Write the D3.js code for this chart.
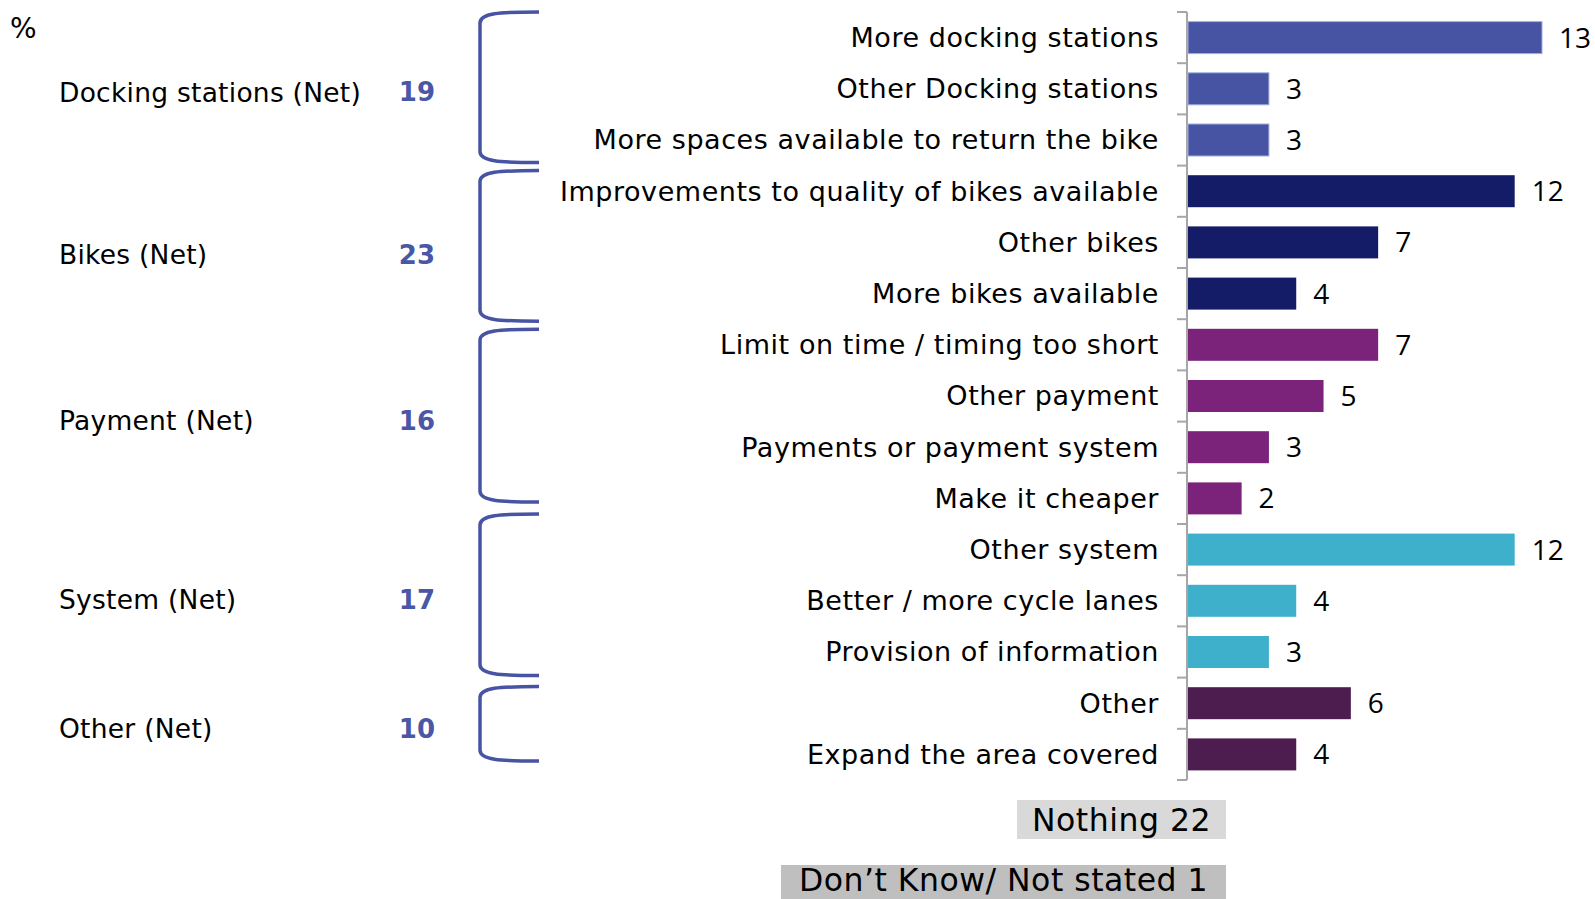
<!DOCTYPE html>
<html>
<head>
<meta charset="utf-8">
<script src="https://cdn.jsdelivr.net/npm/d3@7"></script>
<style>
  html, body { margin: 0; padding: 0; background: #ffffff; }
  svg { display: block; }
</style>
</head>
<body>
<svg id="chart" width="1595" height="899"></svg>
<script>
// Suggested improvements, grouped into net categories (%)
const categories = [
  "More docking stations",
  "Other Docking stations",
  "More spaces available to return the bike",
  "Improvements to quality of bikes available",
  "Other bikes",
  "More bikes available",
  "Limit on time / timing too short",
  "Other payment",
  "Payments or payment system",
  "Make it cheaper",
  "Other system",
  "Better / more cycle lanes",
  "Provision of information",
  "Other",
  "Expand the area covered"
];
const values = [13, 3, 3, 12, 7, 4, 7, 5, 3, 2, 12, 4, 3, 6, 4];

const groupNames = ["Docking stations (Net)", "Bikes (Net)", "Payment (Net)", "System (Net)", "Other (Net)"];
const groupNets = [19, 23, 16, 17, 10];
const groupSizes = [3, 3, 4, 3, 2];
const groupColors = ["#4753a3", "#141c67", "#7b237b", "#3fb0cc", "#4d1d50"];

const nothingLabel = "Nothing";
const nothingValue = 22;
const dontKnowLabel = "Don\u2019t Know/ Not stated";
const dontKnowValue = 1;

const svg = d3.select("#chart");

// group index for each category
const groupOf = [];
groupSizes.forEach((n, g) => { for (let i = 0; i < n; i++) groupOf.push(g); });

const axisX = 1187;
const x = d3.scaleLinear().domain([0, 13]).range([axisX, 1542]);
const y = d3.scaleBand()
  .domain(categories)
  .range([12, 780])
  .paddingInner(0.375)
  .paddingOuter(0.1875);

const labelFont = "'DejaVu Sans', Verdana, sans-serif";

// percent marker
svg.append("text")
  .attr("x", 10).attr("y", 38)
  .attr("font-family", labelFont)
  .attr("font-size", 28)
  .attr("fill", "#000")
  .text("%");

// category axis with ticks between bands
const step = y.step();
const outer = y.paddingOuter() * step;
const boundaries = d3.range(categories.length + 1).map(i => y.range()[0] + i * step);
const axisG = svg.append("g");
axisG.append("line")
  .attr("x1", axisX).attr("x2", axisX)
  .attr("y1", boundaries[0]).attr("y2", boundaries[boundaries.length - 1])
  .attr("stroke", "#a6a6a6").attr("stroke-width", 2);
axisG.selectAll("line.tick")
  .data(boundaries)
  .enter().append("line")
  .attr("class", "tick")
  .attr("x1", axisX - 10).attr("x2", axisX)
  .attr("y1", d => d).attr("y2", d => d)
  .attr("stroke", "#a6a6a6").attr("stroke-width", 2);

// category labels
svg.append("g").selectAll("text")
  .data(categories)
  .enter().append("text")
  .attr("x", axisX - 28)
  .attr("y", d => y(d) + y.bandwidth() / 2)
  .attr("dy", "0.35em")
  .attr("text-anchor", "end")
  .attr("font-family", labelFont)
  .attr("font-size", 27)
  .attr("letter-spacing", 0.55)
  .attr("fill", "#000")
  .text(d => d);

// bars
svg.append("g").selectAll("rect")
  .data(categories)
  .enter().append("rect")
  .attr("x", x(0) + 1)
  .attr("y", d => y(d))
  .attr("width", (d, i) => x(values[i]) - x(0) - 1)
  .attr("height", y.bandwidth())
  .attr("fill", (d, i) => groupColors[groupOf[i]])
  .attr("stroke", (d, i) => groupOf[i] === 0 ? "#9fb0e0" : "none")
  .attr("stroke-width", 1);

// value labels
svg.append("g").selectAll("text")
  .data(categories)
  .enter().append("text")
  .attr("x", (d, i) => x(values[i]) + 17)
  .attr("y", d => y(d) + y.bandwidth() / 2)
  .attr("dy", "0.36em")
  .attr("font-family", "'Open Sans', sans-serif")
  .attr("font-size", 28)
  .attr("fill", "#000")
  .text((d, i) => values[i]);

// group brackets and net labels
const bracketL = 480, bracketR = 539;
// hand-set trims (top, bottom) of each bracket relative to its band span
const bracketTrim = [[0, 3], [5, -2], [10, 22], [-10, 2], [9, 19]];
// small vertical nudges of the net labels from their bracket centres
const netNudge = [5, 9, 5, 5, 5];
let start = 0;
const groups = groupNames.map((name, g) => {
  const first = categories[start];
  const last = categories[start + groupSizes[g] - 1];
  start += groupSizes[g];
  const top = y(first) - outer + bracketTrim[g][0];
  const bottom = y(last) + y.bandwidth() + outer - bracketTrim[g][1];
  return { name, net: groupNets[g], top, bottom, labelY: (top + bottom) / 2 + netNudge[g] };
});

const bracketG = svg.append("g");
bracketG.selectAll("path")
  .data(groups)
  .enter().append("path")
  .attr("d", d => {
    const t = d.top, b = d.bottom, L = bracketL, R = bracketR;
    return `M${R},${t} C${R - 40},${t} ${L},${t + 1} ${L},${t + 11}` +
           ` L${L},${b - 11} C${L},${b - 1} ${R - 40},${b} ${R},${b}`;
  })
  .attr("fill", "none")
  .attr("stroke", "#4753a3")
  .attr("stroke-width", 3.5);

svg.append("g").selectAll("text")
  .data(groups)
  .enter().append("text")
  .attr("x", 59)
  .attr("y", d => d.labelY)
  .attr("dy", "0.35em")
  .attr("font-family", labelFont)
  .attr("font-size", 26.5)
  .attr("letter-spacing", 0.25)
  .attr("fill", "#000")
  .text(d => d.name);

svg.append("g").selectAll("text")
  .data(groups)
  .enter().append("text")
  .attr("x", 435)
  .attr("y", d => d.labelY)
  .attr("dy", "0.35em")
  .attr("text-anchor", "end")
  .attr("font-family", labelFont)
  .attr("font-weight", "bold")
  .attr("font-size", 26)
  .attr("fill", "#4a56a6")
  .text(d => d.net);

// summary boxes for responses outside the nets
const boxes = [
  { text: `${nothingLabel} ${nothingValue}`, x0: 1017, y0: 800, h: 39, mid: 20, fill: "#d9d9d9" },
  { text: `${dontKnowLabel} ${dontKnowValue}`, x0: 781, y0: 865, h: 40, mid: 14.5, fill: "#bfbfbf" }
];
const boxRight = 1226;
const boxG = svg.append("g");
boxes.forEach(b => {
  boxG.append("rect")
    .attr("x", b.x0).attr("y", b.y0)
    .attr("width", boxRight - b.x0).attr("height", b.h)
    .attr("fill", b.fill);
  boxG.append("text")
    .attr("x", (b.x0 + boxRight) / 2)
    .attr("y", b.y0 + b.mid)
    .attr("dy", "0.36em")
    .attr("text-anchor", "middle")
    .attr("font-family", labelFont)
    .attr("font-size", 31.5)
    .attr("letter-spacing", 0.5)
    .attr("fill", "#000")
    .text(b.text);
});
</script>
</body>
</html>
